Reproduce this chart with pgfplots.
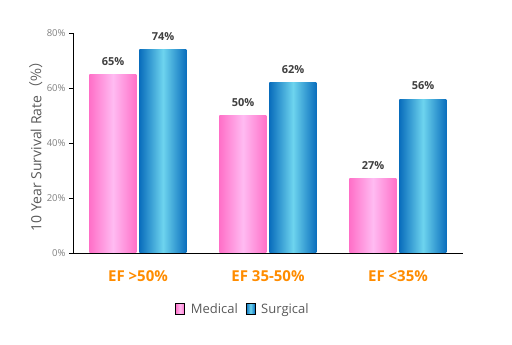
\documentclass[border=0pt]{standalone}
\usepackage{pgfplots}
\pgfplotsset{compat=1.18}
\usepackage{fontspec}
\setmainfont{Open Sans}
\newfontfamily\cjk{Noto Sans CJK SC}
\definecolor{pinkE}{HTML}{FF70C8}
\definecolor{pinkL}{HTML}{FFBBF2}
\definecolor{blueE}{HTML}{0A6EBD}
\definecolor{blueL}{HTML}{6DD4EE}
\definecolor{efor}{HTML}{FF8C00}
\definecolor{lblgray}{HTML}{404040}
\definecolor{tkgray}{HTML}{7F7F7F}
\definecolor{txgray}{HTML}{595959}
\pgfplotsset{
  medshade/.style={left color=pinkE, right color=pinkE, middle color=pinkL},
  surshade/.style={left color=blueE, right color=blueE, middle color=blueL},
  medbar/.style={ybar, bar width=47pt, bar shift=-25pt, draw=none, forget plot, medshade,
    every node near coord/.append style={xshift=-25pt}},
  surbar/.style={ybar, bar width=47pt, bar shift=25pt, draw=none, forget plot, surshade,
    every node near coord/.append style={xshift=25pt}},
}
\begin{document}
\begin{tikzpicture}
\path[use as bounding box] (-73pt,-92pt) rectangle (439pt,253pt);
\begin{axis}[
  /pgf/number format/assume math mode=true,
  scale only axis, width=390pt, height=220pt,
  xmin=-0.5, xmax=2.5, ymin=0, ymax=80,
  axis x line*=bottom, axis y line*=left,
  axis line style={black, line width=0.8pt, -},
  xtick={0,1,2}, xticklabels={EF >50\%, EF 35-50\%, EF <35\%},
  x tick label style={font=\fontsize{15}{18}\selectfont\bfseries, text=efor, anchor=base, yshift=-25pt},
  major x tick style={draw=none},
  ytick={0,20,40,60,80},
  yticklabel={\pgfmathprintnumber{\tick}\%},
  y tick label style={font=\fontsize{9.5}{11}\selectfont, text=tkgray},
  major y tick style={black, line width=0.8pt},
  tick align=outside, major tick length=4pt,
  ylabel={10 Year Survival Rate{\cjk （\%）}},
  ylabel style={font=\fontsize{14}{16}\selectfont, text=txgray, at={(axis description cs:-0.095,0.5)}, anchor=center},
  nodes near coords={\pgfmathprintnumber{\pgfplotspointmeta}\%},
  every node near coord/.append style={font=\fontsize{11}{13}\selectfont\bfseries, text=lblgray, anchor=center, yshift=13pt},
  legend style={at={(axis description cs:0.436,-0.2545)}, anchor=center, legend columns=2, draw=none, fill=none,
    font=\fontsize{13}{15}\selectfont, text=txgray,
    /tikz/every odd column/.append style={column sep=4pt},
    /tikz/every even column/.append style={column sep=6pt}},
  legend image code/.code={\fill[#1] (0pt,-5.5pt) rectangle (9pt,5.5pt);},
]
\addplot[medbar] coordinates {(0,65)};
\addplot[medbar] coordinates {(1,50)};
\addplot[medbar] coordinates {(2,27)};
\addplot[surbar] coordinates {(0,74)};
\addplot[surbar] coordinates {(1,62)};
\addplot[surbar] coordinates {(2,56)};
\addlegendimage{medshade}
\addlegendentry{Medical}
\addlegendimage{surshade}
\addlegendentry{Surgical}
\end{axis}
\end{tikzpicture}
\end{document}
